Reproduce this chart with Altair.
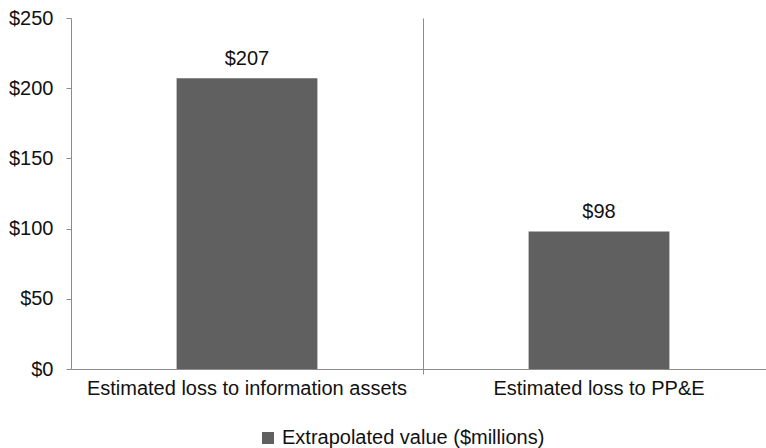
import altair as alt
import pandas as pd

categories = ["Estimated loss to information assets", "Estimated loss to PP&E"]
values = [207, 98]
series_name = "Extrapolated value ($millions)"
y_ticks = [0, 50, 100, 150, 200, 250]

df = pd.DataFrame({
    "category": categories,
    "value": values,
    "series": [series_name] * len(categories),
    "label": ["$" + str(v) for v in values],
})

FONT = "Liberation Sans"
BAR = "#606060"
AXIS = "#8c8c8c"
TEXT = "#111111"

x_scale = alt.Scale(range=[0, 704], paddingInner=0.6, paddingOuter=0.3)

y_enc = alt.Y(
    "value:Q",
    scale=alt.Scale(domain=[0, 250], nice=False),
    axis=alt.Axis(
        title=None, values=y_ticks, labelExpr="'$' + datum.value",
        labelFontSize=20, labelColor=TEXT, labelPadding=13,
        domainColor=AXIS, tickColor=AXIS, tickSize=5, grid=False,
    ),
)

# bars with the category labels underneath
bars = alt.Chart(df).mark_bar().encode(
    x=alt.X(
        "category:N", sort=categories, scale=x_scale,
        axis=alt.Axis(
            title=None, labelAngle=0, labelFontSize=20, labelColor=TEXT,
            labelPadding=9, labelLimit=500, domainColor=AXIS,
            ticks=False, grid=False, orient="bottom",
        ),
    ),
    y=y_enc,
    color=alt.Color(
        "series:N",
        scale=alt.Scale(range=[BAR]),
        legend=alt.Legend(
            title=None, orient="none", legendX=187, legendY=410,
            symbolType="square", symbolSize=144, symbolStrokeWidth=0,
            labelFontSize=20, labelColor=TEXT, labelLimit=500, labelOffset=4,
        ),
    ),
)

# value labels above each bar
text = alt.Chart(df).mark_text(
    dy=-13, fontSize=20, color=TEXT, font=FONT, baseline="alphabetic"
).encode(
    x=alt.X("category:N", sort=categories, axis=None),
    y="value:Q",
    text="label:N",
)

# category separator: tick and full-height line between the bands
divider = alt.Chart(df).mark_bar(opacity=0).encode(
    x=alt.X(
        "category:N", sort=categories,
        axis=alt.Axis(
            title=None, labels=False, domain=False, ticks=True,
            tickColor=AXIS, tickSize=5, bandPosition=1.75, orient="bottom",
            grid=True, gridColor=AXIS, gridWidth=1,
        ),
    ),
    y="value:Q",
)

chart = (
    alt.layer(bars, text, divider)
    .resolve_axis(x="independent")
    .properties(
        width=695,
        height=351,
        autosize=alt.AutoSizeParams(type="none"),
        padding={"left": 71, "top": 18, "right": 0, "bottom": 79},
    )
    .configure(font=FONT)
    .configure_view(stroke=None)
)

chart.save("out.html", embed_options={"renderer": "svg", "actions": False})
